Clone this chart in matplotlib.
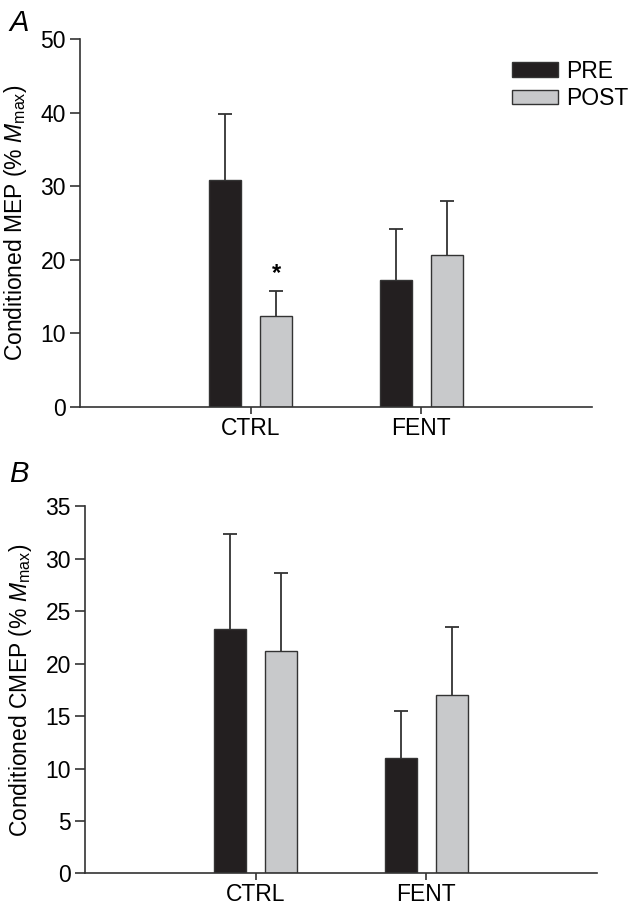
import numpy as np
import matplotlib
matplotlib.use("Agg")
import matplotlib.pyplot as plt

plt.rcParams['font.family'] = ['Liberation Sans', 'DejaVu Sans']
plt.rcParams['mathtext.fontset'] = 'custom'
plt.rcParams['mathtext.rm'] = 'Liberation Sans'
plt.rcParams['mathtext.it'] = 'Liberation Sans:italic'

groups = ['CTRL', 'FENT']
series = ['PRE', 'POST']

# panel A: conditioned MEP
mep_pre = [30.8, 17.2]
mep_pre_err = [9.0, 7.0]
mep_post = [12.4, 20.6]
mep_post_err = [3.3, 7.4]

# panel B: conditioned CMEP
cmep_pre = [23.3, 11.0]
cmep_pre_err = [9.1, 4.5]
cmep_post = [21.2, 17.0]
cmep_post_err = [7.5, 6.5]

dark = '#231f20'
light = '#c8c9cb'
edge = '#333333'
fs = 16.5

fig = plt.figure(figsize=(6.28, 9.06), dpi=100)
axA = fig.add_axes([0.127, 0.551, 0.816, 0.406])
axB = fig.add_axes([0.135, 0.036, 0.816, 0.405])


def draw(ax, pre, pre_err, post, post_err, ymax, ystep, ylabel):
    x = np.arange(1, len(groups) + 1)
    w = 0.19
    off = 0.15
    zeros = np.zeros(len(groups))
    # only the upper whisker is shown
    for xs, vals, errs in [(x - off, pre, pre_err), (x + off, post, post_err)]:
        eb = ax.errorbar(xs, vals, yerr=[zeros, errs], fmt='none', ecolor=edge,
                         elinewidth=1.3, capsize=5, capthick=1.3, zorder=1)
        eb[1][0].set_visible(False)
    ax.bar(x - off, pre, w, color=dark, edgecolor=edge, linewidth=1,
           label=series[0], zorder=2)
    ax.bar(x + off, post, w, color=light, edgecolor=edge, linewidth=1,
           label=series[1], zorder=2)
    ax.set_xlim(0, 3)
    ax.set_ylim(0, ymax)
    ax.set_yticks(np.arange(0, ymax + 0.1, ystep))
    ax.set_xticks(x)
    ax.set_xticklabels(groups)
    for s in ['top', 'right']:
        ax.spines[s].set_visible(False)
    for s in ['left', 'bottom']:
        ax.spines[s].set_color(edge)
        ax.spines[s].set_linewidth(1.2)
    ax.tick_params(axis='y', length=7, width=1.2, color=edge, labelsize=fs, pad=3)
    ax.tick_params(axis='x', length=5, width=1.2, color=edge, labelsize=fs, pad=2)
    ax.set_ylabel(ylabel, fontsize=fs, labelpad=8)


draw(axA, mep_pre, mep_pre_err, mep_post, mep_post_err, 50, 10,
     r'Conditioned MEP (% $\mathit{M}_{\mathrm{max}}$)')
draw(axB, cmep_pre, cmep_pre_err, cmep_post, cmep_post_err, 35, 5,
     r'Conditioned CMEP (% $\mathit{M}_{\mathrm{max}}$)')

# significance marker
axA.text(1 + 0.15, mep_post[0] + mep_post_err[0] + 0.8, '*', ha='center',
         va='bottom', fontsize=17, fontweight='bold')

axA.legend(loc='upper right', bbox_to_anchor=(1.11, 1.0), frameon=False,
           fontsize=fs, handlelength=2.0, handleheight=0.6,
           handletextpad=0.35, labelspacing=0.2)

fig.text(0.015, 0.975, 'A', fontsize=21, style='italic', va='center')
fig.text(0.015, 0.477, 'B', fontsize=21, style='italic', va='center')

fig.savefig('out.png', dpi=100)
